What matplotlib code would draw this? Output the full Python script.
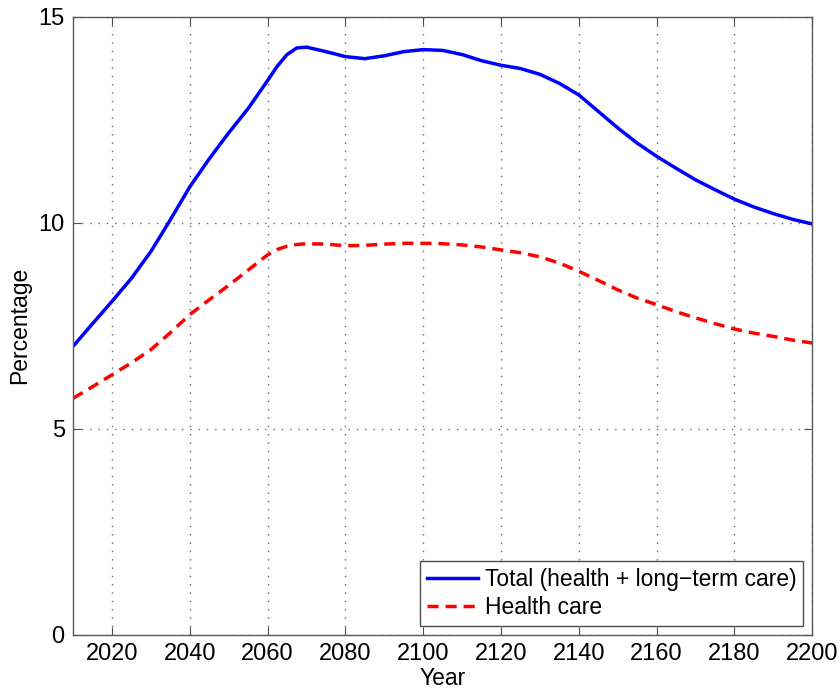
import numpy as np
import matplotlib
matplotlib.use("Agg")
import matplotlib.pyplot as plt

plt.rcParams['font.family'] = ['Liberation Sans', 'DejaVu Sans']

# values (percent of GDP)
years = [2010, 2015, 2020, 2025, 2030, 2035, 2040, 2045, 2050, 2055, 2060,
         2062.5, 2065, 2067.5, 2070, 2075, 2080, 2085, 2090, 2095, 2100, 2105, 2110,
         2115, 2120, 2125, 2130, 2135, 2140, 2145, 2150, 2155, 2160, 2165,
         2170, 2175, 2180, 2185, 2190, 2195, 2200]
total = [7.0, 7.55, 8.09, 8.65, 9.3, 10.07, 10.87, 11.55, 12.18, 12.77, 13.45,
         13.8, 14.08, 14.24, 14.26, 14.15, 14.03, 13.98, 14.05, 14.15, 14.2, 14.18, 14.08,
         13.93, 13.82, 13.74, 13.6, 13.38, 13.1, 12.7, 12.3, 11.93, 11.61, 11.32,
         11.04, 10.8, 10.57, 10.38, 10.22, 10.08, 9.97]
health = [5.74, 6.02, 6.31, 6.6, 6.92, 7.33, 7.77, 8.13, 8.48, 8.85, 9.22,
          9.35, 9.43, 9.47, 9.49, 9.48, 9.44, 9.45, 9.48, 9.5, 9.5, 9.49, 9.46,
          9.41, 9.34, 9.27, 9.17, 9.02, 8.82, 8.6, 8.37, 8.17, 8.01, 7.84,
          7.69, 7.55, 7.42, 7.32, 7.24, 7.15, 7.08]

xticks = [2020, 2040, 2060, 2080, 2100, 2120, 2140, 2160, 2180, 2200]
yticks = [0, 5, 10, 15]

fig = plt.figure(figsize=(8.4, 6.93), dpi=100)
ax = fig.add_axes([0.087, 0.084, 0.88, 0.892])

ax.plot(years, total, color='#0000ff', lw=2.5, solid_joinstyle='round',
        label='Total (health + long\u2212term care)')
ax.plot(years, health, color='#ff0000', lw=2.5, ls='--', dashes=(3.2, 2.0),
        dash_joinstyle='round', label='Health care')

ax.set_xlim(2010, 2200)
ax.set_ylim(0, 15)
ax.set_xticks(xticks)
ax.set_yticks(yticks)
ax.grid(True, ls=(0, (1, 5)), color='0.4', lw=1.0)
ax.tick_params(direction='in', top=True, right=True, length=6, labelsize=17,
               color='0.3', pad=6)
for s in ax.spines.values():
    s.set_color('0.35')
    s.set_linewidth(1.0)

ax.set_xlabel('Year', fontsize=16.5, labelpad=1)
ax.set_ylabel('Percentage', fontsize=16.5)
ax.yaxis.set_label_coords(-0.057, 0.5)

leg = ax.legend(loc='lower right', fontsize=16.5, handlelength=2.2,
                fancybox=False, framealpha=1, borderpad=0.3,
                labelspacing=0.2, handletextpad=0.3, borderaxespad=0.4)
leg.get_frame().set_edgecolor('0.3')
leg.get_frame().set_linewidth(1.0)

fig.savefig('out.png', dpi=100)
